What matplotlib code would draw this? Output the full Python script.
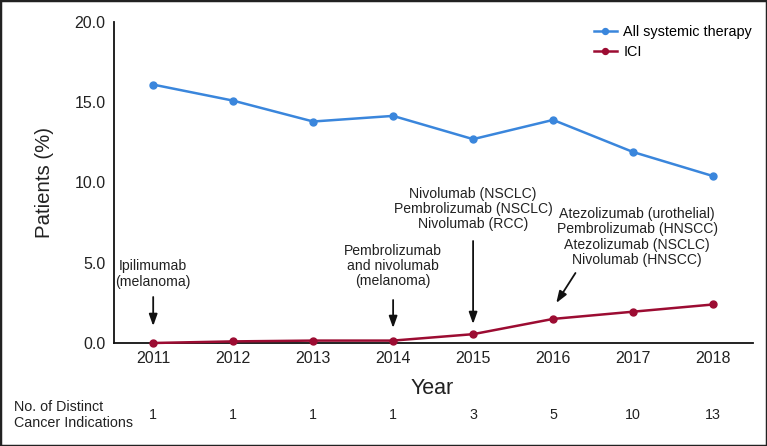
import matplotlib
matplotlib.use("Agg")
import matplotlib.pyplot as plt
from matplotlib.patches import Rectangle
import matplotlib.transforms as mtransforms

plt.rcParams['font.family'] = ['Liberation Sans', 'DejaVu Sans']

years = [2011, 2012, 2013, 2014, 2015, 2016, 2017, 2018]
all_systemic = [16.1, 15.1, 13.8, 14.15, 12.7, 13.9, 11.9, 10.4]
ici = [0.0, 0.1, 0.15, 0.15, 0.55, 1.5, 1.95, 2.4]
distinct_indications = [1, 1, 1, 1, 3, 5, 10, 13]
yticks = [0.0, 5.0, 10.0, 15.0, 20.0]

annotation_years = [2011, 2014, 2015, 2016]
annotation_texts = [
    "Ipilimumab\n(melanoma)",
    "Pembrolizumab\nand nivolumab\n(melanoma)",
    "Nivolumab (NSCLC)\nPembrolizumab (NSCLC)\nNivolumab (RCC)",
    "Atezolizumab (urothelial)\nPembrolizumab (HNSCC)\nAtezolizumab (NSCLC)\nNivolumab (HNSCC)",
]

blue = "#3a86dc"
red = "#9c0c32"
txtc = "#222222"
W, H = 767, 446

fig = plt.figure(figsize=(W/100, H/100), dpi=100)
ax = fig.add_axes([114/W, 1-343/H, (753-114)/W, (343-22)/H])

ax.plot(years, all_systemic, color=blue, lw=1.8, marker='o', ms=5, label="All systemic therapy", clip_on=False, zorder=3)
ax.plot(years, ici, color=red, lw=1.8, marker='o', ms=5, label="ICI", clip_on=False, zorder=3)

ax.set_xlim(2010.51, 2018.5)
ax.set_ylim(0, 20)
ax.set_xticks(years)
ax.set_xticklabels([str(y) for y in years])
ax.set_yticks(yticks)
ax.set_yticklabels([f"{v:.1f}" for v in yticks])
ax.tick_params(axis='both', length=0, labelsize=11.5, colors=txtc)
ax.tick_params(axis='x', pad=6)
ax.tick_params(axis='y', pad=6)
for s in ['top', 'right']:
    ax.spines[s].set_visible(False)
for s in ['left', 'bottom']:
    ax.spines[s].set_linewidth(1.3)
    ax.spines[s].set_color("#111111")

fig.text(44/W, 1-183/H, "Patients (%)", fontsize=14.7, rotation=90, ha='center', va='center', color=txtc)
fig.text(432/W, 1-388/H, "Year", fontsize=15.5, ha='center', va='center', color=txtc)

ax.legend(loc='upper right', bbox_to_anchor=(1.012, 1.019), frameon=False, fontsize=10.4,
          handlelength=1.6, handletextpad=0.45, labelspacing=0.45, markerscale=0.85, borderaxespad=0.2)

# annotation text blocks: y centers in figure pixels (from top)
text_centers_y = [274, 266, 209, 237]
text_x = [2011, 2014, 2015, 2017.05]
for x, yc, t in zip(text_x, text_centers_y, annotation_texts):
    ax.annotate(t, xy=(x, H - yc), xycoords=('data', 'figure pixels'),
                fontsize=10.1, ha='center', va='center', linespacing=1.12, color=txtc)

arrow_kw = dict(arrowstyle='-|>,head_length=0.7,head_width=0.25', color='#111111', lw=1.3,
                shrinkA=0, shrinkB=0)
# (x_tail, y_tail, x_head, y_head) with x in data, y in pixels from top
arrows = [
    (2011, 297, 2011, 326),
    (2014, 300, 2014, 328),
    (2015, 241, 2015, 324),
    (2016.28, 273, 2016.04, 303),
]
for xt, yt, xh, yh in arrows:
    ax.annotate("", xy=(xh, H - yh), xytext=(xt, H - yt),
                xycoords=('data', 'figure pixels'), textcoords=('data', 'figure pixels'),
                arrowprops=arrow_kw)

# bottom table
fig.text(14/W, 1-415/H, "No. of Distinct\nCancer Indications", fontsize=10.3, ha='left', va='center',
         linespacing=1.15, color=txtc)
row_tr = mtransforms.blended_transform_factory(ax.transData, fig.transFigure)
for yr, n in zip(years, distinct_indications):
    ax.text(yr, 1-415/H, str(n), transform=row_tr, fontsize=10.3, ha='center', va='center', color=txtc)

fig.patches.append(Rectangle((0, 0), 1, 1, transform=fig.transFigure, fill=False,
                             edgecolor='#222222', lw=2.5, zorder=10))

fig.savefig("out.png", dpi=100)
